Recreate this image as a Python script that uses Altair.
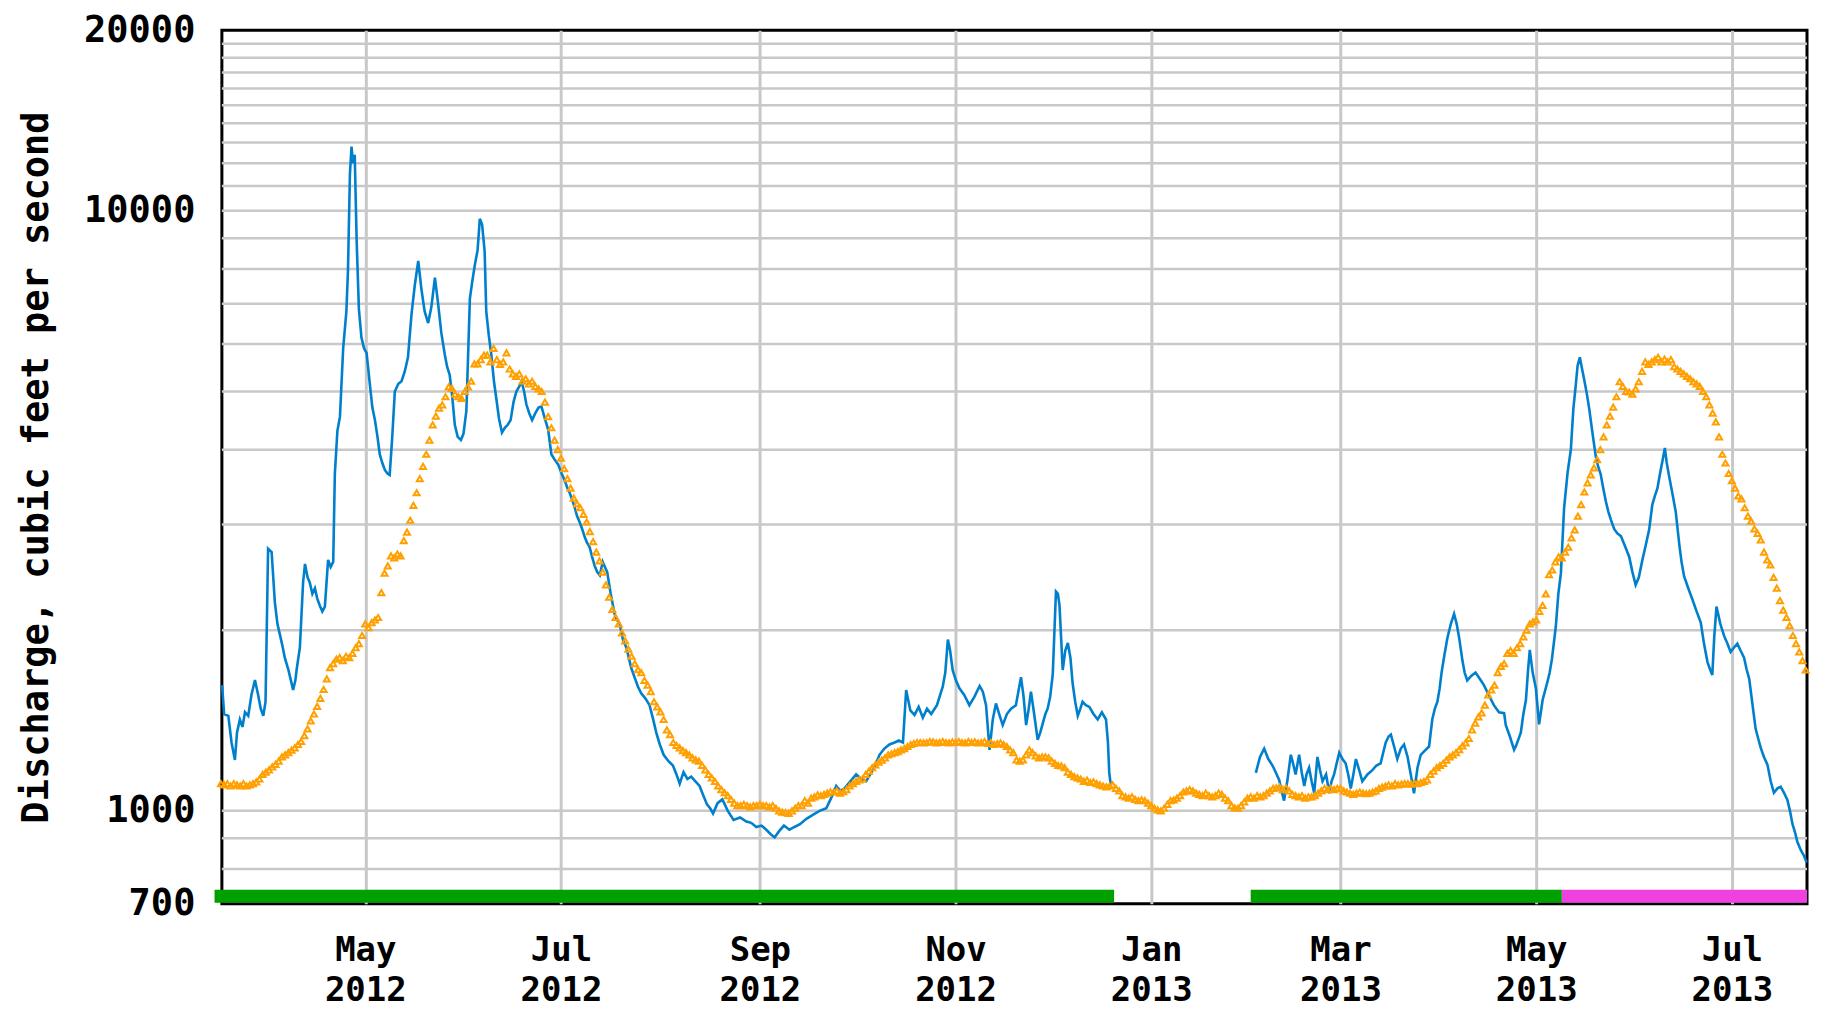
import altair as alt
import pandas as pd

START = pd.Timestamp("2012-03-17")

# ---------------- data ----------------
# Instantaneous discharge (blue), day offsets from 2012-03-17, cfs
blue_days_a = [0.35, 1.0, 2.3, 3.3, 4.35, 5.0, 5.9, 6.7, 7.5, 8.5, 9.5, 10.6, 11.6, 12.4, 13.2, 13.9,
               14.7, 15.8, 16.8, 17.6, 18.4, 19.2, 19.9, 21.0, 21.8, 22.5, 23.2, 23.6, 24.6, 25.6,
               26.2, 27.0, 27.7, 28.5, 29.3, 30.0, 30.8, 31.6, 32.4, 33.4, 34.2, 35.0, 35.5, 36.3,
               37.1, 38.1, 39.1, 39.6, 40.2, 40.7, 41.2, 41.7, 42.3, 43.0, 43.8, 44.6, 45.4, 46.4,
               47.2, 48.0, 48.8, 49.5, 50.3, 51.1, 51.9, 52.6, 53.4, 54.2, 55.3, 56.3, 57.3, 58.3,
               59.4, 60.4, 61.5, 62.5, 63.5, 64.6, 65.6, 66.7, 67.7, 68.7, 69.8, 70.5, 71.3, 72.1,
               72.9, 73.8, 74.8, 75.6, 76.5, 77.6, 78.3, 79.1, 80.0, 80.7, 81.4, 82.2, 82.7, 83.5,
               84.3, 85.1, 85.9, 86.7, 87.6, 88.5, 89.4, 90.3, 91.2, 92.1, 93.0, 93.7, 94.5, 95.2,
               96.1, 97.0, 98.0, 99.0, 99.9, 101.0, 102.0, 103.0, 104.0, 105.1, 106.2, 107.2, 108.0,
               108.7, 109.5, 110.3, 111.0, 111.8, 112.6, 113.4, 114.1, 114.9, 115.7, 116.5, 117.3,
               118.1, 119.0, 119.7, 120.4, 121.5, 122.7, 123.5, 124.3, 125.3, 126.4, 127.9, 129.0,
               130.0, 131.0, 132.3, 133.6, 134.6, 135.7, 136.8, 138.0, 139.5, 140.9, 142.0, 143.0,
               144.2, 145.4, 146.6, 147.9, 149.2, 150.4, 151.5, 152.5, 153.4, 154.8, 156.3, 158.0,
               159.8, 161.8, 163.8, 165.3, 166.9, 168.5, 170.0, 171.3, 172.6, 174.0, 175.5, 177.2,
               178.8, 180.5, 182.5, 184.5, 186.6, 188.7, 190.2, 191.8, 193.1, 194.4, 196.2, 198.0,
               199.6, 201.1, 202.4, 203.7, 205.3, 206.8, 208.4, 210.0, 211.3, 212.6, 213.6, 214.9,
               216.2, 217.5, 218.8, 220.1, 221.4, 223.2, 225.0, 225.8, 226.6, 227.3, 228.1, 229.1,
               230.2, 231.7, 233.3, 234.9, 236.5, 237.5, 238.5, 239.6, 240.6, 241.6, 242.6, 243.7,
               245.0, 246.3, 247.8, 249.4, 250.2, 251.0, 251.8, 252.5, 253.5, 254.6, 255.4, 256.2,
               257.0, 257.7, 258.5, 259.3, 260.3, 260.9, 261.4, 262.4, 263.2, 264.0, 264.8, 265.5,
               266.3, 267.1, 267.9, 268.6, 269.6, 270.7, 272.0, 273.3, 274.6, 275.9, 276.5, 276.9,
               277.4]
blue_vals_a = [1620, 1450, 1440, 1300, 1216, 1350, 1420, 1380, 1460, 1440, 1560, 1652, 1560, 1480, 1440, 1520,
               2735, 2700, 2227, 2050, 1965, 1880, 1800, 1720, 1650, 1590, 1650, 1720, 1870, 2400,
               2580, 2450, 2400, 2300, 2350, 2260, 2200, 2150, 2190, 2620, 2550, 2600, 3640, 4300,
               4540, 5900, 6800, 7960, 11500, 12800, 12000, 12400, 8930, 6860, 6150, 5900, 5800, 5150,
               4700, 4480, 4200, 3930, 3800, 3700, 3650, 3630, 4200, 5000, 5150, 5200, 5400, 5700,
               6720, 7500, 8250, 7400, 6800, 6500, 6920, 7740, 7000, 6260, 5750, 5500, 5330, 4900,
               4400, 4200, 4150, 4250, 4640, 7140, 7600, 8100, 8600, 9700, 9500, 8560, 6800, 6200,
               5750, 5200, 4840, 4500, 4270, 4350, 4400, 4480, 4800, 5000, 5100, 5200, 5000, 4760,
               4600, 4480, 4600, 4700, 4720, 4500, 4320, 3930, 3850, 3780, 3650, 3550, 3450,
               3390, 3300, 3200, 3100, 3030, 2950, 2860, 2800, 2755, 2650, 2560, 2500,
               2470, 2600, 2550, 2500, 2300, 2130, 2080, 2050, 1930, 1870, 1730, 1666,
               1610, 1570, 1540, 1500, 1430, 1350, 1290, 1240, 1210, 1190, 1150, 1110,
               1160, 1130, 1140, 1120, 1100, 1060, 1025, 1010, 990, 1030, 1045, 1000,
               966, 975, 960, 955, 940, 945, 930, 915, 903, 925, 945, 930,
               940, 950, 970, 985, 1000, 1010, 1050, 1100, 1080, 1090, 1120, 1150,
               1130, 1120, 1150, 1183, 1240, 1270, 1290, 1300, 1310, 1300, 1590, 1470,
               1445, 1490, 1430, 1480, 1450, 1500, 1610, 1700, 1930, 1850, 1716, 1650,
               1600, 1560, 1500, 1550, 1615, 1580, 1500, 1264, 1420, 1510, 1450, 1390,
               1450, 1480, 1500, 1670, 1550, 1390, 1480, 1580, 1450, 1313, 1350, 1400,
               1450, 1480, 1550, 1690, 2320, 2300, 2200, 1717, 1850, 1905, 1800, 1630,
               1520, 1440, 1480, 1520, 1500, 1490, 1450, 1420, 1460, 1420, 1300, 1160,
               1100]

blue_days_b = [322.6, 323.9, 325.2, 326.5, 327.8, 328.8, 329.9, 330.6, 331.4, 332.4, 333.5, 334.2,
               335.0, 336.1, 336.9, 337.7, 338.4, 339.2, 340.0, 340.8, 341.8, 342.6, 343.4, 344.5,
               345.5, 346.2, 347.0, 347.8, 348.6, 349.6, 350.6, 351.4, 352.2, 353.0, 353.8, 354.8,
               355.8, 357.4, 359.0, 360.2, 361.5, 362.3, 363.1, 364.0, 364.7, 365.7, 366.7, 367.8,
               368.8, 369.9, 370.9, 371.9, 373.0, 374.0, 375.3, 376.6, 377.6, 378.4, 379.2, 379.9,
               380.5, 381.4, 382.3, 383.4, 384.4, 385.2, 386.0, 387.0, 387.7, 388.5, 389.8, 391.1,
               392.4, 393.7, 395.2, 396.8, 398.4, 400.0, 400.5, 401.8, 403.1, 403.7, 405.2, 406.0,
               406.8, 407.4, 408.0, 408.9, 409.9, 410.9, 412.0, 413.5, 414.2, 414.9, 416.1, 416.9,
               417.7, 418.7, 419.8, 420.8, 421.6, 422.3, 422.9, 423.6, 424.3, 425.0, 425.8, 426.5,
               427.5, 428.6, 429.3, 430.1, 430.9, 431.7, 432.5, 433.3, 434.3, 435.3, 436.4, 437.7,
               439.0, 440.0, 441.0, 442.0, 443.1, 444.2, 445.2, 446.2, 447.0, 447.8, 448.6, 449.4,
               450.1, 450.7, 451.4, 452.5, 453.5, 454.6, 455.3, 456.1, 457.4, 458.7, 460.0, 461.3,
               462.3, 463.4, 464.2, 464.9, 465.5, 466.2, 467.4, 468.6, 469.6, 470.6, 471.6, 472.7,
               473.7, 474.8, 475.6, 476.4, 477.4, 478.4, 479.2, 480.0, 481.0, 482.1, 483.1, 484.1,
               485.2, 486.2, 487.3, 488.3, 489.1, 489.9, 490.7, 491.4, 492.5, 493.5, 494.3]
blue_vals_b = [1157, 1230, 1270, 1220, 1190, 1160, 1125, 1080, 1040, 1120, 1240, 1200,
               1150, 1240, 1160, 1100, 1150, 1180, 1120, 1070, 1230, 1170, 1120, 1150,
               1070, 1120, 1150, 1200, 1250, 1220, 1200, 1150, 1090, 1150, 1220, 1170,
               1120, 1150, 1170, 1190, 1200, 1250, 1300, 1330, 1340, 1280, 1220, 1270,
               1290, 1230, 1150, 1070, 1180, 1240, 1260, 1280, 1420, 1480, 1520, 1600,
               1700, 1820, 1940, 2050, 2130, 2050, 1940, 1780, 1700, 1650, 1680, 1700,
               1660, 1620, 1560, 1500, 1460, 1455, 1390, 1330, 1264, 1283, 1350, 1450,
               1530, 1700, 1855, 1700, 1600, 1394, 1530, 1640, 1700, 1790, 2025, 2300,
               2490, 3200, 3670, 4000, 4690, 5100, 5520, 5700, 5450, 5220, 4950, 4690,
               4280, 3890, 3750, 3640, 3450, 3280, 3150, 3055, 2950, 2900, 2870, 2760,
               2650, 2500, 2380, 2450, 2620, 2780, 2940, 3240, 3350, 3450, 3650, 3840,
               4025, 3800, 3620, 3370, 3150, 2780, 2600, 2460, 2350, 2250, 2150, 2060,
               1900, 1770, 1720, 1685, 1950, 2190, 2050, 1955, 1900, 1840, 1870, 1900,
               1850, 1800, 1720, 1660, 1507, 1370, 1320, 1273, 1230, 1193, 1120, 1072,
               1090, 1097, 1070, 1043, 1000, 950, 920, 888, 860, 841, 820]

# Median daily statistic (orange), one value per day from 2012-03-17
orange_vals = [
    1110, 1105, 1110, 1100, 1110, 1105, 1100, 1110, 1100, 1105,
    1110, 1118, 1130, 1150, 1160, 1170, 1184, 1195, 1210, 1230,
    1240, 1250, 1262, 1273, 1290, 1305, 1335, 1370, 1412, 1450,
    1493, 1540, 1593, 1660, 1733, 1760, 1790, 1800, 1780, 1810,
    1800, 1830, 1870, 1900, 1960, 2050, 2020, 2060, 2080, 2100,
    2310, 2490, 2560, 2660, 2640, 2680, 2660, 2820, 2915, 3050,
    3230, 3390, 3580, 3750, 3930, 4150, 4400, 4550, 4690, 4750,
    4900, 5090, 5060, 4950, 4900, 4870, 5000, 5090, 5200, 5560,
    5560, 5650, 5750, 5750, 5600, 5900, 5650, 5550, 5600, 5800,
    5450, 5350, 5300, 5350, 5200, 5250, 5150, 5200, 5100, 5050,
    5000, 4800, 4540, 4350, 4150, 4000, 3870, 3720, 3580, 3450,
    3320, 3250, 3200, 3120, 3030, 2920, 2810, 2700, 2610, 2500,
    2380, 2270, 2166, 2100, 2050, 1980, 1920, 1860, 1810, 1760,
    1720, 1700, 1650, 1620, 1580, 1520, 1490, 1462, 1420, 1364,
    1340, 1300, 1285, 1273, 1260, 1250, 1240, 1225, 1216, 1210,
    1190, 1170, 1150, 1135, 1120, 1100, 1085, 1072, 1060, 1045,
    1030, 1020, 1020, 1025, 1020, 1015, 1020, 1020, 1025, 1020,
    1020, 1015, 1020, 1010, 1000, 995, 993, 990, 1000, 1010,
    1020, 1020, 1040, 1030, 1050, 1055, 1063, 1060, 1065, 1070,
    1076, 1075, 1080, 1070, 1076, 1085, 1100, 1110, 1120, 1126,
    1130, 1150, 1165, 1180, 1193, 1205, 1215, 1225, 1240, 1245,
    1250, 1255, 1264, 1270, 1280, 1290, 1295, 1300, 1300, 1298,
    1300, 1305, 1303, 1298, 1300, 1305, 1300, 1298, 1303, 1300,
    1305, 1300, 1298, 1305, 1300, 1303, 1298, 1300, 1305, 1295,
    1300, 1290, 1295, 1298, 1290, 1280, 1264, 1250, 1216, 1210,
    1216, 1240, 1264, 1250, 1235, 1225, 1230, 1230, 1225, 1210,
    1200, 1190, 1188, 1180, 1160, 1150, 1140, 1135, 1130, 1120,
    1125, 1115, 1118, 1110, 1105, 1100, 1096, 1100, 1105, 1090,
    1080, 1060, 1055, 1050, 1055, 1045, 1040, 1043, 1040, 1030,
    1020, 1010, 1004, 1000, 1010, 1025, 1040, 1043, 1050, 1060,
    1075, 1080, 1085, 1080, 1070, 1065, 1060, 1070, 1060, 1055,
    1060, 1070, 1065, 1050, 1040, 1020, 1012, 1010, 1020, 1035,
    1050, 1055, 1050, 1060, 1055, 1060, 1070, 1080, 1090, 1092,
    1095, 1085, 1092, 1080, 1065, 1060, 1055, 1060, 1050, 1055,
    1055, 1060, 1070, 1080, 1090, 1085, 1090, 1085, 1090, 1090,
    1080, 1075, 1070, 1065, 1070, 1075, 1070, 1068, 1070, 1075,
    1080, 1090, 1095, 1100, 1105, 1100, 1110, 1105, 1108, 1110,
    1110, 1108, 1112, 1110, 1115, 1120, 1126, 1150, 1165, 1180,
    1190, 1200, 1215, 1230, 1240, 1250, 1265, 1283, 1298, 1320,
    1364, 1400, 1434, 1456, 1500, 1560, 1590, 1620, 1700, 1740,
    1760, 1830, 1850, 1830, 1870, 1900, 1950, 2000, 2050, 2065,
    2080, 2150, 2200, 2300, 2475, 2520, 2600, 2650, 2640, 2700,
    2750, 2850, 2940, 3100, 3240, 3400, 3520, 3630, 3730, 3850,
    4000, 4200, 4400, 4550, 4710, 4900, 5190, 5100, 5000, 4990,
    4950, 5050, 5190, 5400, 5600, 5550, 5600, 5650, 5700, 5600,
    5660, 5600, 5650, 5500, 5450, 5400, 5350, 5300, 5250, 5190,
    5150, 5100, 5000, 4900, 4750, 4600, 4450, 4200, 3930, 3800,
    3650, 3550, 3450, 3350, 3310, 3200, 3100, 3040, 2950, 2900,
    2830, 2700, 2620, 2570, 2450, 2350, 2240, 2160, 2100, 2035,
    1960, 1900, 1840, 1780, 1717,
]

# Approval status bars
status_start = ["2012-03-15T00:00:00Z", "2013-02-01T00:00:00Z", "2013-05-09T00:00:00Z"]
status_end = ["2012-12-20T10:00:00Z", "2013-05-09T00:00:00Z", "2013-07-24T10:00:00Z"]
status_label = ["Approved", "Approved", "Provisional"]

# Axis ticks / gridlines
y_label_values = [700, 1000, 10000, 20000]
y_grid_values = [800, 900, 1000, 2000, 3000, 4000, 5000, 6000, 7000, 8000, 9000, 10000,
                 11000, 12000, 13000, 14000, 15000, 16000, 17000, 18000, 19000]
x_tick_months = [(2012, 5), (2012, 7), (2012, 9), (2012, 11), (2013, 1), (2013, 3), (2013, 5), (2013, 7)]
y_title = "Discharge, cubic feet per second"


def to_iso(days):
    return [(START + pd.to_timedelta(float(d), unit="D")).strftime("%Y-%m-%dT%H:%M:%SZ") for d in days]


blue_df = pd.DataFrame({
    "t": to_iso(blue_days_a) + to_iso(blue_days_b),
    "cfs": blue_vals_a + blue_vals_b,
    "seg": ["a"] * len(blue_days_a) + ["b"] * len(blue_days_b),
})
orange_df = pd.DataFrame({"t": to_iso(range(len(orange_vals))), "cfs": orange_vals})
grid_df = pd.DataFrame({"v": y_grid_values})
status_df = pd.DataFrame({"start": status_start, "end": status_end, "status": status_label})

FONT = "DejaVu Sans Mono"
PLOT_W, PLOT_H = 1586, 874

x_scale = alt.Scale(
    type="utc",
    domain=[alt.DateTime(year=2012, month=3, date=17, hours=7, utc=True),
            alt.DateTime(year=2013, month=7, date=24, hours=10, utc=True)],
)
y_scale = alt.Scale(type="log", domain=[700, 20000], nice=False)

x_axis = alt.Axis(
    values=[alt.DateTime(year=y, month=m, date=1, utc=True) for (y, m) in x_tick_months],
    labelExpr="[utcFormat(datum.value, '%b'), utcFormat(datum.value, '%Y')]",
    labelFontSize=34, labelLineHeight=40, labelPadding=30, labelAlign="center", labelBaseline="top",
    labelFlush=False, labelOverlap=False,
    ticks=False, domain=False, grid=True, gridColor="#c8c8c8", gridWidth=3, gridOpacity=1,
    title=None,
)
y_axis = alt.Axis(
    values=y_label_values, format="d", grid=False, ticks=False, domain=False, labelPadding=27,
    labelBaseline="middle",
    title=y_title, titleX=-185, titleY=PLOT_H / 2, titleAngle=270, titleAlign="center",
    titleBaseline="middle",
)

grid = alt.Chart(grid_df).mark_rule(color="#c8c8c8", strokeWidth=2.5).encode(
    y=alt.Y("v:Q", scale=y_scale, axis=y_axis)
)

status = alt.Chart(status_df).mark_rect(clip=False).encode(
    x=alt.X("start:T", scale=x_scale, axis=x_axis),
    x2="end:T",
    y=alt.value(PLOT_H - 14),
    y2=alt.value(PLOT_H - 1),
    color=alt.Color("status:N", scale=alt.Scale(domain=["Approved", "Provisional"],
                                                range=["#00A000", "#F040E0"]), legend=None),
)

blue = alt.Chart(blue_df).mark_line(color="#0080CC", strokeWidth=2.6, clip=False).encode(
    x=alt.X("t:T", scale=x_scale, axis=x_axis),
    y=alt.Y("cfs:Q", scale=y_scale, axis=y_axis),
    detail="seg:N",
)

orange = alt.Chart(orange_df).mark_point(
    shape="triangle-up", filled=False, size=36, strokeWidth=2, color="#FFA000", opacity=1, clip=False
).encode(
    x=alt.X("t:T", scale=x_scale, axis=x_axis),
    y=alt.Y("cfs:Q", scale=y_scale, axis=y_axis),
)

chart = alt.layer(grid, status, blue, orange).properties(
    width=PLOT_W, height=PLOT_H,
    autosize=alt.AutoSizeParams(type="none"),
    padding={"left": 214, "top": 22, "right": 10, "bottom": 105},
).configure_view(
    stroke="black", strokeWidth=3
).configure_axis(
    labelFont=FONT, labelFontSize=37, labelFontWeight="bold", labelColor="black",
    titleFont=FONT, titleFontSize=37, titleFontWeight="bold", titleColor="black",
)

chart.save("out.html", embed_options={"renderer": "svg", "actions": False})
